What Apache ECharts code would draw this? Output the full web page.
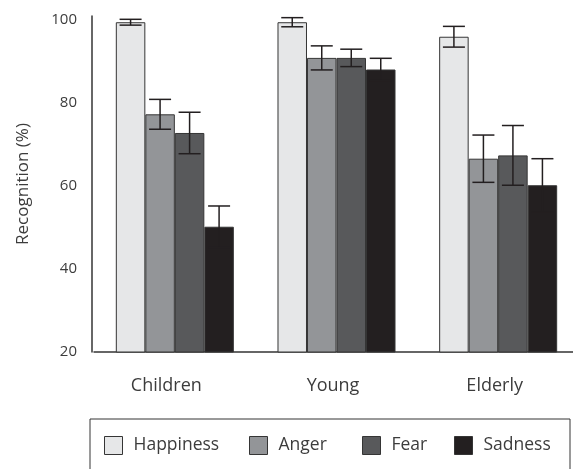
<!DOCTYPE html>
<html>
<head>
<meta charset="utf-8">
<script src="https://cdn.jsdelivr.net/npm/echarts@6/dist/echarts.min.js"></script>
<style>
  html, body { margin: 0; padding: 0; background: #fff; }
  #chart { width: 573px; height: 469px; }
</style>
</head>
<body>
<div id="chart"></div>
<script>
// Age groups on the x axis
const groups = ['Children', 'Young', 'Elderly'];
// Emotion categories (one bar series each)
const emotions = ['Happiness', 'Anger', 'Fear', 'Sadness'];
const emotionColors = ['#e6e7e8', '#939598', '#58595b', '#231f20'];

// Mean recognition (%) per emotion, ordered Children / Young / Elderly
const happiness = [99.5, 99.5, 96.0];
const anger     = [77.3, 90.9, 66.6];
const fear      = [72.8, 90.9, 67.4];
const sadness   = [50.2, 88.1, 60.2];

// Error bar half-widths (%)
const happinessErr = [0.7, 1.1, 2.5];
const angerErr     = [3.6, 2.9, 5.7];
const fearErr      = [5.0, 2.1, 7.2];
const sadnessErr   = [5.0, 2.7, 6.4];

// Y axis ticks
const yTicks = [20, 40, 60, 80, 100];

const means = [happiness, anger, fear, sadness];
const errs = [happinessErr, angerErr, fearErr, sadnessErr];

const FONT = '"Open Sans", sans-serif';
const TEXT = '#3c3c3c';
const CAT_GAP = 0.27;

const barSeries = emotions.map((name, s) => ({
  name: name,
  type: 'bar',
  data: means[s],
  barGap: 0,
  barCategoryGap: (CAT_GAP * 100) + '%',
  itemStyle: { color: emotionColors[s], borderColor: '#353535', borderWidth: 1 },
  z: 2
}));

// Error bar rows: [group index, low, high, emotion index]
const errRows = [];
emotions.forEach((_, s) => {
  groups.forEach((_, g) => {
    errRows.push([g, means[s][g] - errs[s][g], means[s][g] + errs[s][g], s]);
  });
});

const errorSeries = {
  name: 'error',
  type: 'custom',
  z: 5,
  encode: { x: 0, y: [1, 2] },
  data: errRows,
  renderItem: function (params, api) {
    const g = api.value(0);
    const s = api.value(3);
    const band = api.size([1, 0])[0];
    const barW = band * (1 - CAT_GAP) / emotions.length;
    const lo = api.coord([g, api.value(1)]);
    const hi = api.coord([g, api.value(2)]);
    const x = lo[0] + (s - (emotions.length - 1) / 2) * barW;
    const cap = 11;
    const style = { stroke: '#231f20', lineWidth: 1.5, fill: null };
    return {
      type: 'group',
      children: [
        { type: 'line', shape: { x1: x, y1: lo[1], x2: x, y2: hi[1] }, style: style },
        { type: 'line', shape: { x1: x - cap, y1: lo[1], x2: x + cap, y2: lo[1] }, style: style },
        { type: 'line', shape: { x1: x - cap, y1: hi[1], x2: x + cap, y2: hi[1] }, style: style }
      ]
    };
  }
};

// One legend block per emotion, laid out in a single row
const legendLefts = [104, 249, 362, 454];
const legends = emotions.map((name, i) => ({
  data: [name],
  left: legendLefts[i],
  top: 436,
  orient: 'horizontal',
  itemWidth: 18,
  itemHeight: 18,
  icon: 'rect',
  selectedMode: false,
  padding: 0,
  itemStyle: { borderColor: '#353535', borderWidth: 1 },
  textStyle: { fontFamily: FONT, fontSize: 17.5, color: TEXT, padding: [0, 0, 0, 6] }
}));

// Group labels sit slightly left of their bar clusters; the first one more so
const labelStyle = { fontFamily: FONT, fontSize: 18, color: TEXT };
const richLabels = {
  first: Object.assign({ padding: [0, 17, 0, 0] }, labelStyle),
  rest: Object.assign({ padding: [0, 7, 0, 0] }, labelStyle)
};

const chart = echarts.init(document.getElementById('chart'), null, { renderer: 'canvas' });
chart.setOption({
  animation: false,
  backgroundColor: '#fff',
  grid: {
    left: 94, top: 16, height: 336, width: 485,
    containLabel: false,
    outerBoundsMode: 'none'
  },
  legend: legends,
  graphic: [{
    type: 'rect',
    shape: { x: 90, y: 419, width: 480, height: 70 },
    style: { fill: null, stroke: '#353535', lineWidth: 1 },
    silent: true
  }],
  xAxis: {
    type: 'category',
    data: groups,
    axisTick: { show: false },
    axisLine: { lineStyle: { color: '#353535', width: 1.5 } },
    axisLabel: {
      interval: 0,
      hideOverlap: false,
      fontFamily: FONT, fontSize: 18, color: TEXT, margin: 25,
      formatter: (v, i) => (i === 0 ? '{first|' + v + '}' : '{rest|' + v + '}'),
      rich: richLabels
    }
  },
  yAxis: {
    type: 'value',
    min: 20,
    max: 101,
    interval: 20,
    offset: 2,
    name: 'Recognition (%)',
    nameLocation: 'middle',
    nameGap: 60,
    nameTextStyle: { fontFamily: FONT, fontSize: 17, color: TEXT },
    splitLine: { show: false },
    axisTick: { show: false },
    axisLine: { show: true, lineStyle: { color: '#353535', width: 1.5 } },
    axisLabel: {
      fontFamily: FONT, fontSize: 15, color: TEXT, margin: 15,
      showMaxLabel: false,
      formatter: v => (yTicks.indexOf(v) >= 0 ? String(v) : '')
    }
  },
  series: barSeries.concat([errorSeries])
});
</script>
</body>
</html>
